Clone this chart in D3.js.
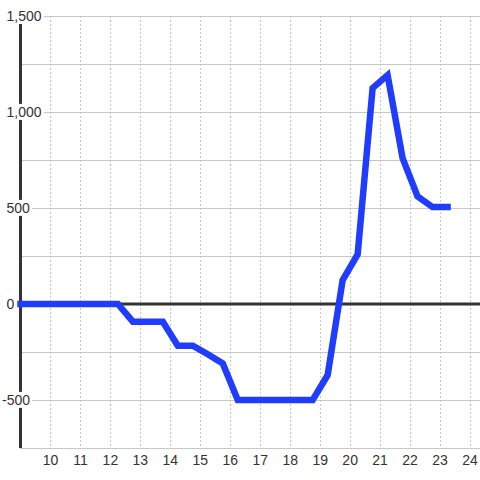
<!DOCTYPE html>
<html>
<head>
<meta charset="utf-8">
<script src="https://cdn.jsdelivr.net/npm/d3@7"></script>
<style>
  html, body { margin: 0; padding: 0; background: #fff; }
  svg { display: block; font-family: "Liberation Sans", Arial, sans-serif; }
</style>
</head>
<body>
<svg id="chart" width="480" height="480"></svg>
<script>
// hour of day and value
const hours = [9, 9.25, 9.75, 10.25, 10.75, 11.25, 11.75, 12.25, 12.75, 13.25, 13.75,
  14.25, 14.75, 15.25, 15.75, 16.25, 16.75, 17.25, 17.75, 18.25, 18.75,
  19.25, 19.75, 20.25, 20.75, 21.25, 21.75, 22.25, 22.75, 23.25];
const values = [0, 0, 0, 0, 0, 0, 0, 0, -92, -92, -92,
  -217, -217, -262, -310, -500, -500, -500, -500, -500, -500,
  -370, 125, 258, 1125, 1192, 760, 560, 505, 505];
const xTicks = [10, 11, 12, 13, 14, 15, 16, 17, 18, 19, 20, 21, 22, 23, 24];
const yGrid = [-500, -250, 0, 250, 500, 750, 1000, 1250, 1500];
const yLabels = [-500, 0, 500, 1000, 1500];

const W = 480, H = 480;
const svg = d3.select('#chart');

const x = d3.scaleLinear().domain([9, 24.3333]).range([20.5, 480]);
const y = d3.scaleLinear().domain([-750, 1500]).range([448, 16]);

// vertical dotted grid
svg.append('g').selectAll('line').data(xTicks).join('line')
  .attr('x1', d => x(d)).attr('x2', d => x(d))
  .attr('y1', y(1500)).attr('y2', y(-750))
  .attr('stroke', '#c8c8c8').attr('stroke-width', 1)
  .attr('stroke-dasharray', '2,2')
  .attr('shape-rendering', 'crispEdges');

// horizontal grid
svg.append('g').selectAll('line').data(yGrid.filter(d => d !== 0)).join('line')
  .attr('x1', 20).attr('x2', W)
  .attr('y1', d => y(d)).attr('y2', d => y(d))
  .attr('stroke', '#c8c8c8').attr('stroke-width', 1)
  .attr('shape-rendering', 'crispEdges');

// bottom axis line
svg.append('line')
  .attr('x1', 20).attr('x2', W)
  .attr('y1', y(-750) + 0.5).attr('y2', y(-750) + 0.5)
  .attr('stroke', '#c8c8c8').attr('stroke-width', 1);

// zero line
svg.append('line')
  .attr('x1', 20).attr('x2', W)
  .attr('y1', y(0)).attr('y2', y(0))
  .attr('stroke', '#333').attr('stroke-width', 3);

// left axis line
svg.append('line')
  .attr('x1', 20.5).attr('x2', 20.5)
  .attr('y1', y(1500) + 8).attr('y2', y(-750))
  .attr('stroke', '#333').attr('stroke-width', 3);

// data line
const line = d3.line().x((d, i) => x(hours[i])).y(d => y(d));
svg.append('path')
  .datum(values)
  .attr('d', line)
  .attr('fill', 'none')
  .attr('stroke', '#1f3cff')
  .attr('stroke-width', 6.5)
  .attr('stroke-linejoin', 'miter')
  .attr('stroke-linecap', 'square');

// y labels with white background
const fmt = d3.format(',');
const yl = svg.append('g').selectAll('g').data(yLabels).join('g')
  .attr('transform', d => `translate(${d < 0 ? 2 : 6.5},${y(d)})`);
yl.each(function(d) {
  const g = d3.select(this);
  const t = g.append('text')
    .attr('dy', '0.35em')
    .attr('font-size', 14)
    .attr('fill', '#333')
    .text(d < 0 ? '-' + fmt(-d) : fmt(d));
  const b = t.node().getBBox();
  g.insert('rect', 'text')
    .attr('x', b.x - 1).attr('y', b.y)
    .attr('width', b.width + 3).attr('height', b.height)
    .attr('fill', '#fff');
});

// x labels
svg.append('g').selectAll('text').data(xTicks).join('text')
  .attr('x', d => x(d)).attr('y', 460)
  .attr('dy', '0.35em')
  .attr('text-anchor', 'middle')
  .attr('font-size', 14)
  .attr('fill', '#333')
  .text(d => d);
</script>
</body>
</html>
